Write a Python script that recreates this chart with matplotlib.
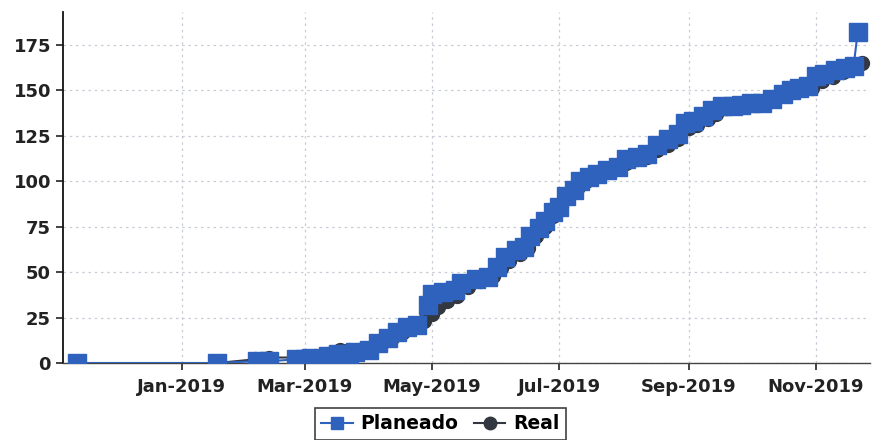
import pandas as pd
import matplotlib
matplotlib.use('Agg')
import matplotlib.pyplot as plt
import matplotlib.dates as mdates

# Planeado (planned) cumulative values
planned_dates = [
    '2018-11-12', '2019-01-18', '2019-02-06', '2019-02-12', '2019-02-25', '2019-03-01',
    '2019-03-04', '2019-03-12', '2019-03-17', '2019-03-22', '2019-03-25', '2019-04-01',
    '2019-04-05', '2019-04-10', '2019-04-14', '2019-04-19', '2019-04-24', '2019-04-29',
    '2019-05-01', '2019-05-06', '2019-05-12', '2019-05-15', '2019-05-22', '2019-05-28',
    '2019-06-01', '2019-06-05', '2019-06-10', '2019-06-14', '2019-06-17', '2019-06-21',
    '2019-06-24', '2019-06-28', '2019-07-01', '2019-07-04', '2019-07-08', '2019-07-11',
    '2019-07-15', '2019-07-19', '2019-07-24', '2019-07-29', '2019-08-02', '2019-08-07',
    '2019-08-12', '2019-08-17', '2019-08-22', '2019-08-27', '2019-08-30', '2019-09-03',
    '2019-09-08', '2019-09-12', '2019-09-17', '2019-09-22', '2019-09-26', '2019-10-01',
    '2019-10-06', '2019-10-11', '2019-10-16', '2019-10-20', '2019-10-24', '2019-10-28',
    '2019-11-01', '2019-11-05', '2019-11-10', '2019-11-15', '2019-11-19', '2019-11-21',
]
planned_values = [
    0, 0, 1, 1, 2, 2,
    3, 4, 5, 5, 6, 7,
    11, 14, 17, 20, 21, 32,
    38, 39, 40, 44, 46, 47,
    53, 58, 62, 64, 70, 74,
    78, 83, 86, 92, 95, 100,
    102, 104, 106, 108, 112, 113,
    115, 120, 123, 126, 132, 133,
    136, 139, 141, 141, 142, 143,
    143, 145, 148, 150, 151, 152,
    158, 159, 161, 162, 163, 182,
]

# Real (actual) cumulative values
real_dates = [
    '2019-01-18', '2019-02-05', '2019-02-12', '2019-02-24', '2019-03-01', '2019-03-06',
    '2019-03-12', '2019-03-18', '2019-03-22', '2019-03-27', '2019-04-02', '2019-04-07',
    '2019-04-12', '2019-04-17', '2019-04-22', '2019-04-27', '2019-05-01', '2019-05-04',
    '2019-05-08', '2019-05-13', '2019-05-18', '2019-05-24', '2019-05-30', '2019-06-03',
    '2019-06-07', '2019-06-12', '2019-06-16', '2019-06-20', '2019-06-24', '2019-06-28',
    '2019-07-02', '2019-07-06', '2019-07-10', '2019-07-14', '2019-07-18', '2019-07-23',
    '2019-07-28', '2019-08-02', '2019-08-07', '2019-08-12', '2019-08-17', '2019-08-22',
    '2019-08-27', '2019-09-01', '2019-09-05', '2019-09-10', '2019-09-14', '2019-09-19',
    '2019-09-24', '2019-10-01', '2019-10-07', '2019-10-12', '2019-10-17', '2019-10-22',
    '2019-10-26', '2019-10-30', '2019-11-04', '2019-11-09', '2019-11-14', '2019-11-18',
    '2019-11-23',
]
real_values = [
    0, 2, 3, 3, 4, 4,
    5, 7, 7, 7, 8, 11,
    14, 17, 20, 23, 27, 31,
    34, 37, 42, 45, 48, 52,
    56, 60, 63, 70, 75, 81,
    86, 93, 97, 100, 103, 105,
    107, 110, 112, 113, 117, 120,
    123, 129, 131, 134, 137, 140,
    141, 142, 143, 146, 149, 150,
    151, 151, 155, 157, 160, 162,
    165,
]

y_ticks = [0, 25, 50, 75, 100, 125, 150, 175]

planned = pd.Series(planned_values, index=pd.to_datetime(planned_dates))
real = pd.Series(real_values, index=pd.to_datetime(real_dates))

fig = plt.figure(figsize=(8.72, 4.40), dpi=100)
ax = fig.add_axes([0.072, 0.175, 0.926, 0.798])

# real drawn first, planned on top
ax.plot(real.index, real.values, color='#33373f', marker='o', markersize=10,
        linewidth=1.5, label='Real', zorder=2)
ax.plot(planned.index, planned.values, color='#2f62bd', marker='s', markersize=12.5,
        linewidth=1.5, label='Planeado', zorder=3)

ax.set_ylim(0, 193)
ax.set_xlim(pd.Timestamp('2018-11-05'), pd.Timestamp('2019-11-27'))
ax.set_yticks(y_ticks)

ax.xaxis.set_major_locator(mdates.MonthLocator(bymonth=[1, 3, 5, 7, 9, 11]))
ax.xaxis.set_major_formatter(mdates.DateFormatter('%b-%Y'))

ax.grid(True, linestyle=(0, (2, 3)), color='#c8ccd6', linewidth=0.9)
ax.set_axisbelow(True)
for side in ['top', 'right']:
    ax.spines[side].set_visible(False)
ax.spines['left'].set_color('#111111')
ax.spines['left'].set_linewidth(1.3)
ax.spines['bottom'].set_color('#444444')
ax.spines['bottom'].set_linewidth(1.0)

ax.tick_params(axis='both', labelsize=13, colors='#222222', length=5, width=1.2)
ax.tick_params(axis='x', pad=6)
for lbl in ax.get_xticklabels() + ax.get_yticklabels():
    lbl.set_fontweight('bold')

handles, labels = ax.get_legend_handles_labels()
leg = fig.legend(handles[::-1], labels[::-1], loc='upper center', bbox_to_anchor=(0.505, 0.095),
                 ncol=2, frameon=True, fancybox=False, handlelength=1.7, handletextpad=0.4,
                 columnspacing=0.8, borderpad=0.35, prop={'weight': 'bold', 'size': 13.5})
leg.get_frame().set_edgecolor('#111111')
leg.get_frame().set_linewidth(1.2)
for h in leg.legend_handles:
    h.set_markersize(9)

fig.savefig('out.png', dpi=100)
